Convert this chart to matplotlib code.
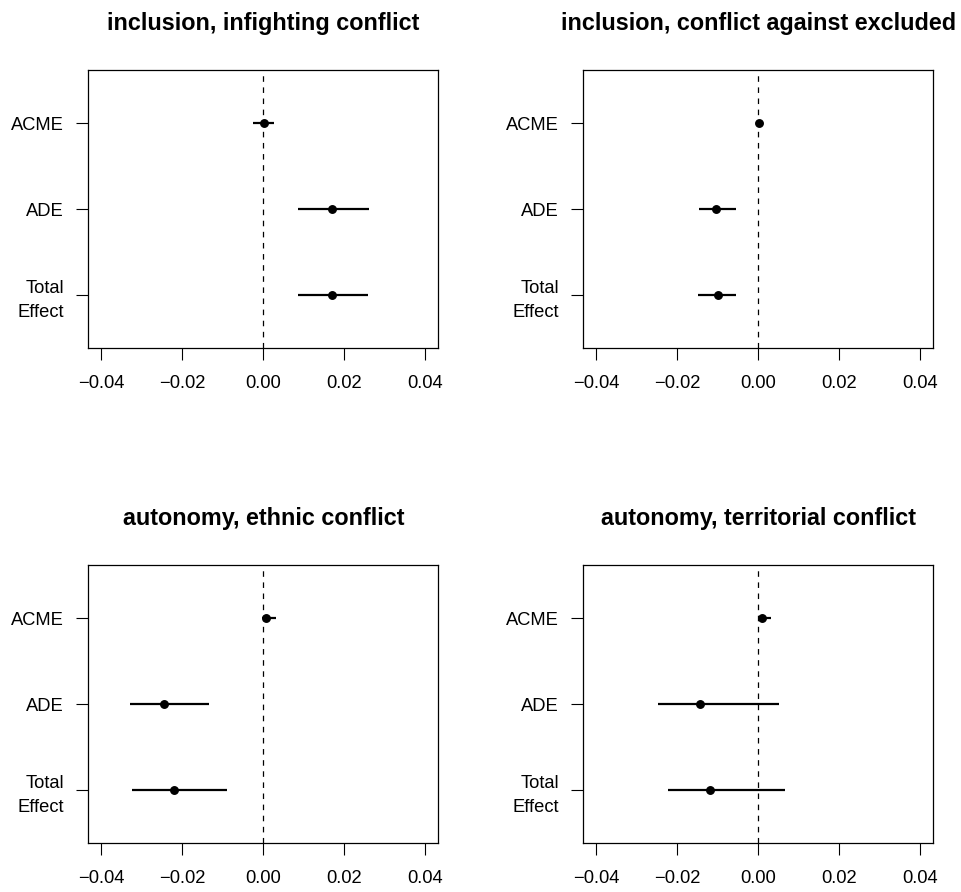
import matplotlib
matplotlib.use("Agg")
import matplotlib.pyplot as plt

plt.rcParams['font.family'] = ['Liberation Sans', 'DejaVu Sans']
plt.rcParams['lines.scale_dashes'] = False

titles = ["inclusion, infighting conflict",
          "inclusion, conflict against excluded",
          "autonomy, ethnic conflict",
          "autonomy, territorial conflict"]
effects = ["ACME", "ADE", "Total\nEffect"]

# estimates, lower CI, upper CI for ACME, ADE, Total Effect
est = [[0.0002, 0.0170, 0.0170],
       [0.0001, -0.0104, -0.0100],
       [0.0007, -0.0244, -0.0221],
       [0.0010, -0.0145, -0.0119]]
lo = [[-0.0026, 0.0086, 0.0086],
      [-0.0003, -0.0146, -0.0148],
      [-0.0002, -0.0330, -0.0324],
      [0.0000, -0.0247, -0.0222]]
hi = [[0.0027, 0.0260, 0.0259],
      [0.0004, -0.0054, -0.0055],
      [0.0032, -0.0135, -0.0089],
      [0.0031, 0.0052, 0.0066]]
xticks = [-0.04, -0.02, 0.00, 0.02, 0.04]
xticklabels = ["\u22120.04", "\u22120.02", "0.00", "0.02", "0.04"]

W, H = 962, 892
fig = plt.figure(figsize=(W / 100, H / 100), dpi=100)

lefts = [88.3, 583.3]
tops = [70, 565]
bw, bh = 350, 278.3

for i in range(4):
    r, c = divmod(i, 2)
    x0 = lefts[c] / W
    y0 = 1 - (tops[r] + bh) / H
    ax = fig.add_axes([x0, y0, bw / W, bh / H])
    ypos = [3, 2, 1]
    ax.axvline(0, color='black', lw=0.9, linestyle=(0, (4, 4)), zorder=1)
    for j in range(3):
        ax.plot([lo[i][j], hi[i][j]], [ypos[j], ypos[j]], color='black',
                lw=1.6, solid_capstyle='butt', zorder=2)
        ax.plot(est[i][j], ypos[j], 'o', color='black', ms=5.4, zorder=3)
    ax.set_xlim(-0.0432, 0.0432)
    ax.set_ylim(0.38, 3.62)
    ax.set_xticks(xticks)
    ax.set_xticklabels(xticklabels, fontsize=13.2)
    ax.set_yticks(ypos)
    ax.set_yticklabels(effects, fontsize=13.2, linespacing=1.5)
    ax.tick_params(axis='x', length=8.4, width=0.8, pad=10.8)
    ax.tick_params(axis='y', length=8.4, width=0.8, pad=9)
    for s in ax.spines.values():
        s.set_linewidth(0.9)
    ax.set_title(titles[i], fontsize=16.8, fontweight='bold', pad=28.8)

fig.savefig("out.png", dpi=100)
